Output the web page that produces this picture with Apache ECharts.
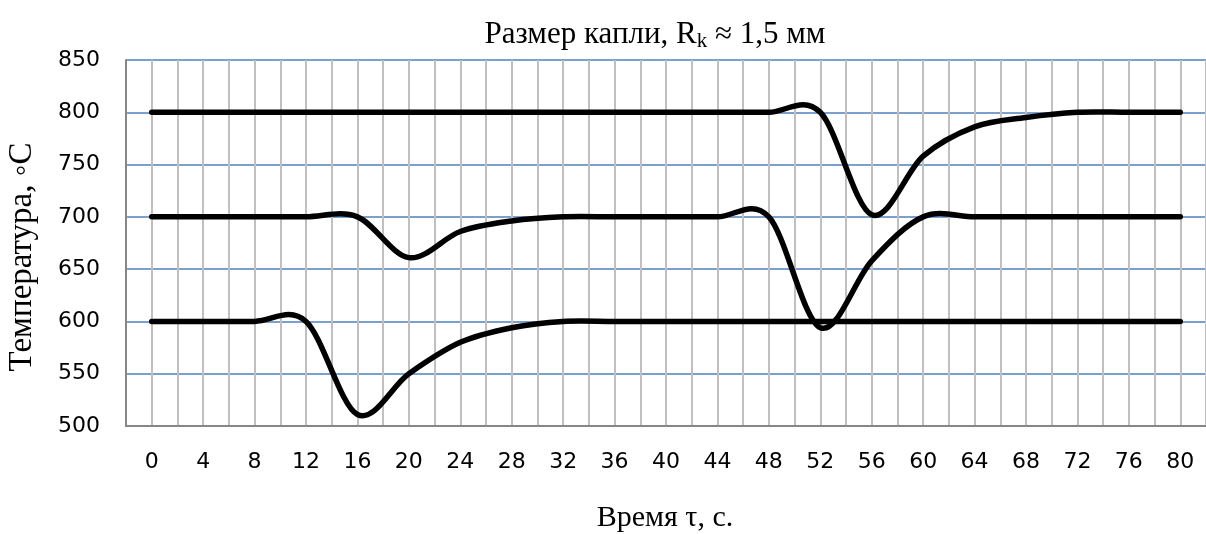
<!DOCTYPE html>
<html>
<head>
<meta charset="utf-8">
<script src="https://cdn.jsdelivr.net/npm/echarts@6/dist/echarts.min.js"></script>
<style>
html,body{margin:0;padding:0;background:#fff;}
#chart{width:1206px;height:534px;}
</style>
</head>
<body>
<div id="chart"></div>
<script>
// ---- data ----
const times = [0,4,8,12,16,20,24,28,32,36,40,44,48,52,56,60,64,68,72,76,80];
const temp600 = [600,600,600,600,511,550,580,594,600,600,600,600,600,600,600,600,600,600,600,600,600];
const temp700 = [700,700,700,700,700,661,686,696,700,700,700,700,700,594,658,700,700,700,700,700,700];
const temp800 = [800,800,800,800,800,800,800,800,800,800,800,800,800,800,702,758,786,795,800,800,800];
const xTickLabels = [0,4,8,12,16,20,24,28,32,36,40,44,48,52,56,60,64,68,72,76,80];
const yTicks = [500,550,600,650,700,750,800,850];

const titleText = 'Размер капли, R{k|k} ≈ 1,5 мм';
const xName = 'Время τ, с.';
const yName = 'Температура, ◦С';

const serif = "'Liberation Serif','Times New Roman',serif";
const sans = "'DejaVu Sans',sans-serif";

function pairs(arr){ return times.map((t,i)=>[t, arr[i]]); }

// Excel-style smoothed line drawn through the chart's own coordinate system
function smoothPath(pts){
  const dist = (a,b)=>Math.hypot(a[0]-b[0], a[1]-b[1]);
  let d = 'M' + pts[0][0] + ' ' + pts[0][1];
  for (let i = 0; i < pts.length - 1; i++){
    const p0 = pts[i-1] || pts[i], p1 = pts[i], p2 = pts[i+1], p3 = pts[i+2] || pts[i+1];
    const d02 = dist(p0,p2), d12 = dist(p1,p2), d13 = dist(p1,p3);
    let f = 1/6, g = 1/6;
    if (d02/6 >= d12/2 && d02 > 0) f = d12/d02/2;
    if (d13/6 >= d12/2 && d13 > 0) g = d12/d13/2;
    const c1 = [p1[0] + f*(p2[0]-p0[0]), p1[1] + f*(p2[1]-p0[1])];
    const c2 = [p2[0] - g*(p3[0]-p1[0]), p2[1] - g*(p3[1]-p1[1])];
    d += ' C' + c1[0] + ' ' + c1[1] + ' ' + c2[0] + ' ' + c2[1] + ' ' + p2[0] + ' ' + p2[1];
  }
  return d;
}

const mkSeries = (name, arr) => ({
  name, type:'custom', data:pairs(arr), encode:{x:0, y:1}, animation:false, silent:true,
  renderItem:function(params, api){
    if (params.dataIndex !== 0) return null;
    const pts = times.map((t,i)=>api.coord([t, arr[i]]));
    return {type:'path', shape:{pathData:smoothPath(pts)},
      style:{stroke:'#000', lineWidth:5.5, fill:'none', lineJoin:'round', lineCap:'round'}};
  }
});

const chart = echarts.init(document.getElementById('chart'), null, {renderer:'canvas'});

chart.setOption({
  animation:false,
  backgroundColor:'#fff',
  title:{
    text:titleText, left:655, top:18, textAlign:'center', padding:0,
    textStyle:{fontFamily:serif, fontSize:31, lineHeight:34, fontWeight:'normal', color:'#000',
      rich:{k:{fontFamily:serif, fontSize:21, lineHeight:10, verticalAlign:'bottom', color:'#000'}}}
  },
  graphic:[
    {type:'text', x:22, y:257, rotation:Math.PI/2,
     style:{text:yName, font:"33px 'Liberation Serif','Times New Roman',serif", fill:'#000', align:'center', verticalAlign:'middle'}},
    {type:'text', x:665, y:518,
     style:{text:xName, font:"30px 'Liberation Serif','Times New Roman',serif", fill:'#000', align:'center', verticalAlign:'middle'}}
  ],
  grid:{left:126, top:60, bottom:108, right:-10, containLabel:false},
  xAxis:{
    type:'value', min:-2, max:82, interval:2,
    axisLine:{show:true, onZero:false, lineStyle:{color:'#868686', width:2}},
    axisTick:{show:false},
    axisLabel:{fontFamily:sans, fontSize:22, color:'#000', margin:25,
      formatter:(v)=> xTickLabels.indexOf(v) >= 0 ? String(v) : '', showMinLabel:true, showMaxLabel:false},
    splitLine:{show:true, lineStyle:{color:'#C0C0C0', width:2}}
  },
  yAxis:{
    type:'value', min:yTicks[0], max:yTicks[yTicks.length-1], interval:50,
    axisLine:{show:true, onZero:false, lineStyle:{color:'#868686', width:2}},
    axisTick:{show:false},
    axisLabel:{fontFamily:sans, fontSize:22, color:'#000', margin:26},
    splitLine:{show:true, lineStyle:{color:'#4F81BD', width:1.6}}
  },
  series:[
    mkSeries('600', temp600),
    mkSeries('700', temp700),
    mkSeries('800', temp800)
  ]
});
</script>
</body>
</html>
